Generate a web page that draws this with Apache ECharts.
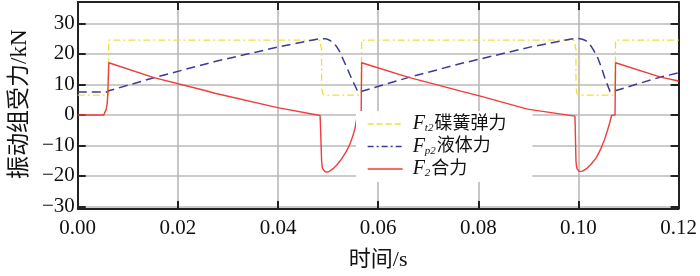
<!DOCTYPE html>
<html>
<head>
<meta charset="utf-8">
<script src="https://cdn.jsdelivr.net/npm/echarts@6/dist/echarts.min.js"></script>
<style>
html,body{margin:0;padding:0;background:#fff;}
#c{width:700px;height:276px;}
</style>
</head>
<body>
<div id="c"></div>
<script>
// ---- data ----
var seriesNames = ['Ft2碟簧弹力', 'Fp2液体力', 'F2合力'];
var xTicks = [0, 0.02, 0.04, 0.06, 0.08, 0.10, 0.12];
var yTicks = [-30, -20, -10, 0, 10, 20, 30];
var xTitle = '时间/s';
var yTitle = '振动组受力/kN';

// Ft2 disc spring force [t (s), F (kN)]
var ft2 = [
  [0, 6.5], [0.0061, 6.5], [0.0062, 24.5], [0.0483, 24.5], [0.0486, 23.9], [0.0487, 21.5],
  [0.0487, 9], [0.0489, 7.1], [0.0493, 6.5], [0.0566, 6.5], [0.0567, 24.5],
  [0.0991, 24.5], [0.0994, 23.9], [0.0995, 21.5], [0.0995, 9], [0.0997, 7.1], [0.1001, 6.5],
  [0.1073, 6.5], [0.1074, 24.5], [0.12, 24.5]
];
// Fp2 fluid force
var fp2 = [
  [0, 7.5], [0.0058, 7.5], [0.0062, 7.9], [0.0152, 12.2], [0.0274, 17.5], [0.0399, 22.2],
  [0.0484, 25.0], [0.0490, 25.0], [0.0497, 24.9], [0.0504, 24.4], [0.0510, 23.6], [0.0517, 22.4],
  [0.0524, 20.5], [0.0530, 18.2], [0.0537, 15.7], [0.0543, 13.4], [0.0548, 11.5], [0.0553, 9.8],
  [0.0560, 7.4], [0.0661, 12.3], [0.0767, 16.9], [0.0905, 22.3],
  [0.0983, 24.8], [0.0999, 25.1], [0.1008, 24.8], [0.1015, 24.3], [0.1023, 23.1], [0.1031, 21.0],
  [0.1039, 18.5], [0.1046, 15.4], [0.1052, 12.4], [0.1058, 9.8], [0.1063, 7.7], [0.1067, 7.6],
  [0.1121, 10.3], [0.1164, 12.4], [0.12, 13.8]
];
// F2 resultant force
var f2 = [
  [0, 0], [0.0052, 0], [0.0055, 0.5], [0.0057, 1.9], [0.0059, 4], [0.0060, 7.1], [0.0061, 12],
  [0.0062, 17.1], [0.0152, 12.2], [0.0254, 8.0], [0.0274, 7.1], [0.0399, 2.4], [0.0484, -0.2],
  [0.0486, -0.3], [0.0487, -15], [0.0488, -16.8], [0.0489, -17.6], [0.0491, -18.2], [0.0494, -18.6],
  [0.0497, -18.8], [0.0500, -18.7], [0.0504, -18.3], [0.0510, -17.6], [0.0517, -16.5],
  [0.0527, -14.4], [0.0537, -11.8], [0.0544, -9.4], [0.0550, -6.6], [0.0554, -4.2], [0.0556, -2.3],
  [0.0558, -0.4], [0.0559, 0],
  [0.0566, 0], [0.0567, 17.1], [0.0661, 12.3], [0.0767, 7.7], [0.0806, 6.1], [0.0898, 1.9],
  [0.0993, -0.4], [0.0995, -15], [0.0996, -16.8], [0.0997, -17.6], [0.0999, -18.2], [0.1001, -18.5],
  [0.1004, -18.6], [0.1008, -18.4], [0.1016, -17.6], [0.1026, -16.0], [0.1036, -13.9],
  [0.1044, -11.3], [0.1052, -8.1], [0.1058, -5.0], [0.1062, -2.8], [0.1066, -0.2], [0.1067, 0],
  [0.1073, 0], [0.1074, 17.1], [0.1164, 12.4], [0.12, 11.1]
];

var legendRich = {
  'Ft2碟簧弹力': '{f|F}{s|t2}碟簧弹力',
  'Fp2液体力': '{f|F}{s|p2}液体力',
  'F2合力': '{f|F}{s|2}合力'
};

var serifFont = '"Liberation Serif", "Noto Sans CJK SC", serif';
var chart = echarts.init(document.getElementById('c'), null, {renderer: 'canvas'});
var yMin = yTicks[0], yMax = 37;
var gridColor = '#bdb8b8';
var frame = {show: true, onZero: false, lineStyle: {color: '#222', width: 2}};
var tick = {show: true, inside: true, length: 8, lineStyle: {color: '#222', width: 2}};

chart.setOption({
  animation: false,
  backgroundColor: '#fff',
  grid: {left: 71, right: 20, top: 2, bottom: 61.5, containLabel: false},
  legend: {
    orient: 'vertical',
    left: 356, top: 111,
    padding: [3, 26, 3, 11],
    backgroundColor: '#fff',
    itemWidth: 35, itemHeight: 10, itemGap: 2.5,
    itemStyle: {opacity: 0},
    data: [
      {name: seriesNames[0], lineStyle: {type: [6, 3], width: 1.3}},
      {name: seriesNames[1], lineStyle: {type: [6, 3, 2, 3], width: 1.3}},
      {name: seriesNames[2], lineStyle: {type: 'solid', width: 1.3}}
    ],
    formatter: function (n) { return legendRich[n]; },
    textStyle: {
      fontFamily: serifFont, fontSize: 18, color: '#111', lineHeight: 20,
      rich: {
        f: {fontFamily: serifFont, fontStyle: 'italic', fontSize: 20, color: '#111', padding: [0, 0, 0, 5]},
        s: {fontFamily: serifFont, fontStyle: 'italic', fontSize: 11, color: '#111', verticalAlign: 'bottom', padding: [9, 1, 0, 0]}
      }
    }
  },
  xAxis: [{
    type: 'value', min: xTicks[0], max: xTicks[xTicks.length - 1], interval: 0.02,
    position: 'bottom', offset: 2.5,
    name: xTitle, nameLocation: 'middle', nameGap: 40,
    nameTextStyle: {fontFamily: serifFont, fontSize: 22, color: '#111'},
    axisLine: frame, axisTick: tick,
    axisLabel: {fontFamily: serifFont, fontSize: 21, color: '#111', margin: 9,
      formatter: function (v) { return v.toFixed(2); }},
    splitLine: {show: true, lineStyle: {color: gridColor, width: 1.6}}
  }, {
    type: 'value', min: xTicks[0], max: xTicks[xTicks.length - 1], interval: 0.02,
    position: 'top', axisLine: frame, axisTick: tick,
    axisLabel: {show: false}, splitLine: {show: false}
  }],
  yAxis: [{
    type: 'value', min: yMin, max: yMax, interval: 10,
    name: yTitle, nameLocation: 'middle', nameGap: 40, nameRotate: 90,
    nameTextStyle: {fontFamily: serifFont, fontSize: 23, color: '#111'},
    axisLine: frame, axisTick: tick,
    axisLabel: {fontFamily: serifFont, fontSize: 21, color: '#111', margin: 3, showMaxLabel: false,
      formatter: function (v) { return yTicks.indexOf(v) < 0 ? '' : String(v).replace('-', '\u2212'); }},
    splitLine: {show: true, lineStyle: {color: gridColor, width: 1.6}}
  }, {
    type: 'value', min: yMin, max: yMax, interval: 10, position: 'right',
    axisLine: frame, axisTick: tick, axisLabel: {show: false}, splitLine: {show: false}
  }],
  series: [{
    name: seriesNames[0], type: 'line', data: ft2, symbol: 'none',
    lineStyle: {color: '#eee03a', width: 1.3, type: [7, 3, 2, 3]}, itemStyle: {color: '#eee03a'}
  }, {
    name: seriesNames[1], type: 'line', data: fp2, symbol: 'none',
    lineStyle: {color: '#3a3a98', width: 1.5, type: [9, 5]}, itemStyle: {color: '#2e2e88'}
  }, {
    name: seriesNames[2], type: 'line', data: f2, symbol: 'none',
    lineStyle: {color: '#f03c3c', width: 1.4}, itemStyle: {color: '#f03c3c'}
  }]
});
</script>
</body>
</html>
